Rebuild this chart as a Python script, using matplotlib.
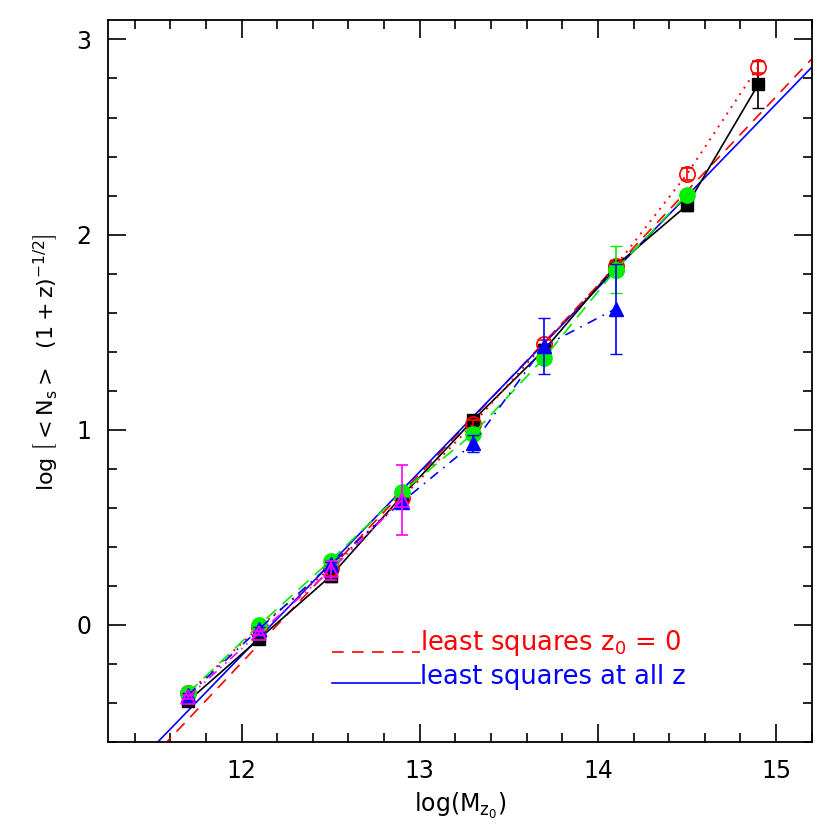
import numpy as np
import matplotlib
matplotlib.use('Agg')
import matplotlib.pyplot as plt
from matplotlib.ticker import MultipleLocator

plt.rcParams['font.family'] = ['DejaVu Sans']
plt.rcParams['mathtext.fontset'] = 'dejavusans'
plt.rcParams['mathtext.default'] = 'regular'

# halo mass bins
logm = [11.7, 12.1, 12.5, 12.9, 13.3, 13.7, 14.1, 14.5, 14.9]

# black squares, solid
y_black = [-0.39, -0.07, 0.25, 0.66, 1.05, 1.41, 1.84, 2.15, 2.77]
e_black = [0.02, 0.02, 0.03, 0.03, 0.02, 0.03, 0.03, 0.03, 0.12]
# red open circles, dotted
y_red = [-0.35, -0.01, 0.29, 0.65, 1.03, 1.44, 1.84, 2.31, 2.86]
e_red = [0.01, 0.01, 0.01, 0.02, 0.02, 0.02, 0.02, 0.03, 0.03]
# green filled circles, dashed
y_green = [-0.35, 0.00, 0.33, 0.68, 0.98, 1.37, 1.82]
e_green = [0.01, 0.01, 0.01, 0.02, 0.02, 0.03, 0.12]
x_green2 = [14.1, 14.5]
y_green2 = [1.82, 2.205]
# blue triangles, dash-dot
y_blue = [-0.36, -0.02, 0.31, 0.63, 0.93, 1.43, 1.62]
e_blue = [0.01, 0.01, 0.01, 0.02, 0.045, 0.145, 0.23]
# magenta open triangles, dash-dot-dot
y_mag = [-0.37, -0.04, 0.28, 0.64]
e_mag = [0.01, 0.01, 0.05, 0.18]

# least squares fits (slope, intercept)
fit_z0 = (0.967, -11.798)
fit_all = (0.942, -11.461)

fig = plt.figure(figsize=(8.3, 8.3), dpi=100)
ax = fig.add_axes([0.130, 0.106, 0.848, 0.870])
xlim = (11.25, 15.2)
ylim = (-0.6, 3.1)

xx = np.array(xlim)
ax.plot(xx, fit_z0[0] * xx + fit_z0[1], color='red', ls=(0, (7, 5)), lw=1.2)
ax.plot(xx, fit_all[0] * xx + fit_all[1], color='blue', ls='-', lw=1.2)

cap = 4.5
ax.errorbar(logm, y_black, yerr=e_black, color='black', ls='-', lw=1.2,
            marker='s', ms=8, capsize=cap, elinewidth=1.2, zorder=3)
ax.errorbar(logm, y_red, yerr=e_red, color='red', ls=(0, (1, 3)), lw=1.4,
            marker='o', ms=11, mfc='none', mew=1.2, capsize=cap, elinewidth=1.2, zorder=4)
n = len(y_green)
ax.errorbar(logm[:n], y_green, yerr=e_green, color='#00ee00', ls=(0, (8, 5)), lw=1.2,
            marker='o', ms=11, capsize=cap, elinewidth=1.2, zorder=5)
ax.plot(x_green2, y_green2, color='#00ee00', ls=(0, (8, 5)), lw=1.2,
        marker='o', ms=11, zorder=5)
n = len(y_blue)
ax.errorbar(logm[:n], y_blue, yerr=e_blue, color='blue', ls=(0, (6, 4, 1, 4)), lw=1.2,
            marker='^', ms=10, capsize=cap, elinewidth=1.2, zorder=6)
n = len(y_mag)
ax.errorbar(logm[:n], y_mag, yerr=e_mag, color='magenta', ls=(0, (6, 3, 1, 3, 1, 3)), lw=1.2,
            marker='^', ms=10, mfc='none', mew=1.2, capsize=cap, elinewidth=1.2, zorder=7)

# legend drawn by hand
ax.plot([0.318, 0.443], [0.1247, 0.1247], transform=ax.transAxes, color='red',
        ls=(0, (7, 5)), lw=1.2)
ax.plot([0.318, 0.443], [0.0817, 0.0817], transform=ax.transAxes, color='blue',
        ls='-', lw=1.2)
ax.text(0.443, 0.137, r'least squares z$_0$ = 0', transform=ax.transAxes, color='red',
        fontsize=18.5, va='center', ha='left')
ax.text(0.443, 0.090, 'least squares at all z', transform=ax.transAxes, color='blue',
        fontsize=18.5, va='center', ha='left')

ax.set_xlim(xlim)
ax.set_ylim(ylim)
ax.xaxis.set_major_locator(MultipleLocator(1))
ax.xaxis.set_minor_locator(MultipleLocator(0.2))
ax.yaxis.set_major_locator(MultipleLocator(1))
ax.yaxis.set_minor_locator(MultipleLocator(0.2))
ax.tick_params(which='both', direction='in', top=True, right=True, labelsize=17, width=1.2)
ax.tick_params(which='major', length=13, pad=12)
ax.tick_params(which='minor', length=6.5)
for s in ax.spines.values():
    s.set_linewidth(1.3)

ax.set_xlabel(r'log(M$_{z_0}$)', fontsize=17, labelpad=6)
ax.set_ylabel(r'log $\left[<N_s>\ \ (1+z)^{-1/2}\right]$', fontsize=16)
ax.yaxis.set_label_coords(-0.068, 0.526)

fig.savefig('out.png', dpi=100)
